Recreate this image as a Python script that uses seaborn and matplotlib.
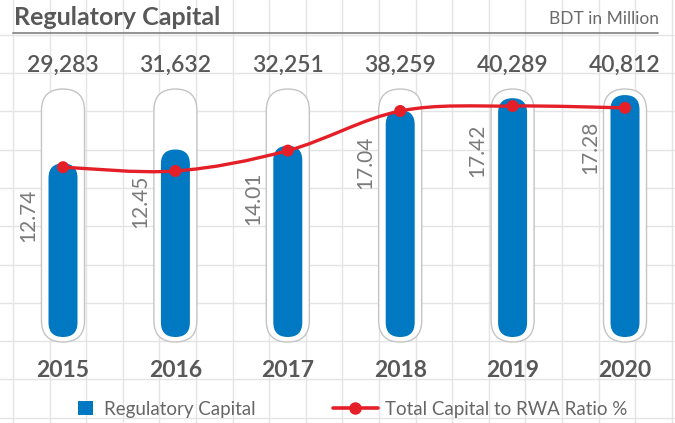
import numpy as np
import pandas as pd
import seaborn as sns
import matplotlib.pyplot as plt
from matplotlib.patches import FancyBboxPatch, Patch, PathPatch
from matplotlib.path import Path
from matplotlib.lines import Line2D

# chart data
years = ["2015", "2016", "2017", "2018", "2019", "2020"]
capital = [29283, 31632, 32251, 38259, 40289, 40812]
ratio = [12.74, 12.45, 14.01, 17.04, 17.42, 17.28]

# colours
blue = "#0079c2"
red = "#e51f28"
dark = "#585858"
light = "#7a7a7a"

sns.set_theme(style="white")
plt.rcParams["font.family"] = ["Lato", "DejaVu Sans"]

W, H = 675, 423
fig = plt.figure(figsize=(W / 100, H / 100), dpi=100)
fig.patch.set_facecolor("white")

# background squared paper
bg = fig.add_axes([0, 0, 1, 1], zorder=0)
bg.set_xlim(0, W)
bg.set_ylim(H, 0)
bg.axis("off")
for gx in np.arange(13, W, 36.6):
    bg.axvline(gx, color="#e4e4e4", lw=1.0)
for gy in np.arange(-3.5, H, 38.3):
    bg.axhline(gy, color="#e4e4e4", lw=1.0)

# title block
bg.plot([13, 658], [33, 33], color="#8a8a8a", lw=1.3)
bg.text(14, 17.5, "Regulatory Capital", fontsize=18, fontweight="bold",
        color=dark, va="center", ha="left")
bg.text(659, 19, "BDT in Million", fontsize=12.5, fontweight="normal",
        color="#6a6a6a", va="center", ha="right")

# main axes (pixel box 13..658 x 88..343)
left, right, top, bottom = 13, 658, 88, 343
ax = fig.add_axes([left / W, 1 - bottom / H, (right - left) / W, (bottom - top) / H],
                  zorder=1)
ax.patch.set_alpha(0)

df = pd.DataFrame({"year": years, "capital": capital, "ratio": ratio})

bar_w = 0.258
sns.barplot(data=df, x="year", y="capital", color=blue, width=bar_w,
            saturation=1, ax=ax)

px_per_x = 112.4
xmin = -50 / px_per_x
ax.set_xlim(xmin, xmin + (right - left) / px_per_x)
val_per_px = 168.7
ax.set_ylim(-6 * val_per_px, 249 * val_per_px)

ylo, yhi = ax.get_ylim()
xlo, xhi = ax.get_xlim()
aspect = ((yhi - ylo) / (bottom - top)) / ((xhi - xlo) / (right - left))

# turn the plain bars into capsules, each inside a white pill
pill_w = 0.383
for p in list(ax.patches):
    x0, w, h = p.get_x(), p.get_width(), p.get_height()
    cx = x0 + w / 2
    p.remove()
    pill = FancyBboxPatch((cx - pill_w / 2, ylo + 0.004 * (yhi - ylo)), pill_w,
                          (yhi - ylo) * 0.992,
                          boxstyle=f"round,pad=0,rounding_size={pill_w / 2}",
                          mutation_aspect=aspect, facecolor="white",
                          edgecolor="#c4c4c4", lw=1.0, zorder=2, clip_on=False)
    ax.add_patch(pill)
    bar = FancyBboxPatch((x0, 0), w, h,
                         boxstyle=f"round,pad=0,rounding_size={w / 2}",
                         mutation_aspect=aspect, facecolor=blue,
                         edgecolor="none", zorder=3)
    ax.add_patch(bar)

# value labels above pills, ratio labels beside bars
for i, v in enumerate(capital):
    ax.annotate(f"{v:,}", xy=(i, 1), xycoords=("data", "axes fraction"),
                xytext=(0, 23 * 0.72), textcoords="offset points",
                ha="center", va="center", fontsize=16.5, fontweight="semibold",
                color=dark)
    ax.annotate(f"{ratio[i]:.2f}", xy=(i, v), xytext=(-35 * 0.72, -52 * 0.72),
                textcoords="offset points", rotation=90, ha="center",
                va="center", fontsize=15, fontweight="normal", color=light,
                zorder=4)

ax.set_xlabel("")
ax.set_ylabel("")
ax.set_yticks([])
ax.tick_params(axis="x", length=0, pad=12)
for t in ax.get_xticklabels():
    t.set_fontsize(16.5)
    t.set_fontweight("bold")
    t.set_color(dark)
sns.despine(ax=ax, left=True, bottom=True)

# ratio line on a second scale
ax2 = ax.twinx()
ax2.set_ylim(-0.71, 18.80)
ax2.set_xlim(xlo, xhi)
ax2.axis("off")

xs = np.arange(len(ratio), dtype=float)
ys = np.array(ratio)
# smooth curve through the points (catmull-rom as cubic bezier)
verts = [(xs[0], ys[0])]
codes = [Path.MOVETO]
for k in range(len(xs) - 1):
    p0 = np.array([xs[max(k - 1, 0)], ys[max(k - 1, 0)]])
    p1 = np.array([xs[k], ys[k]])
    p2 = np.array([xs[k + 1], ys[k + 1]])
    p3 = np.array([xs[min(k + 2, len(xs) - 1)], ys[min(k + 2, len(xs) - 1)]])
    c1 = p1 + (p2 - p0) / 6
    c2 = p2 - (p3 - p1) / 6
    verts += [tuple(c1), tuple(c2), tuple(p2)]
    codes += [Path.CURVE4] * 3
ax2.add_patch(PathPatch(Path(verts, codes), facecolor="none", edgecolor=red,
                        lw=2.4, zorder=5, capstyle="round"))
sns.scatterplot(x=xs, y=ys, color=red, s=75, edgecolor="none", zorder=6,
                ax=ax2, legend=False)
ax2.set_zorder(2)

# legend
fs = 13.5
leg1 = fig.legend(handles=[Patch(facecolor=blue, edgecolor="none",
                                 label="Regulatory Capital")],
                  loc="center left", bbox_to_anchor=(61 / W, 1 - 409 / H),
                  frameon=False, handlelength=0.8,
                  handleheight=0.8, handletextpad=0.6,
                  prop={"weight": "normal", "size": fs})
leg2 = fig.legend(handles=[Line2D([], [], color=red, lw=2.6, marker="o",
                                  markersize=8, label="Total Capital to RWA Ratio %")],
                  loc="center left", bbox_to_anchor=(316 / W, 1 - 409 / H),
                  frameon=False, handlelength=2.4, handletextpad=0.4,
                  prop={"weight": "normal", "size": fs})
for lg in (leg1, leg2):
    for t in lg.get_texts():
        t.set_color("#666666")

fig.savefig("out.png", dpi=100)
